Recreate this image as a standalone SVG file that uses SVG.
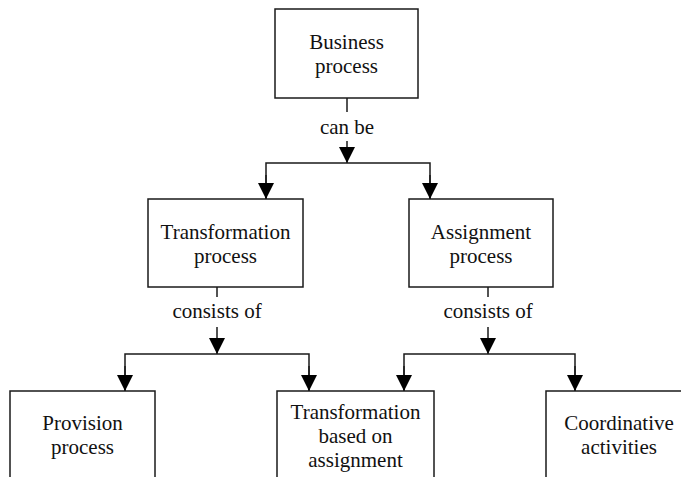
<svg xmlns="http://www.w3.org/2000/svg" width="681" height="477" viewBox="0 0 681 477">
  <style>
    .box { fill: #ffffff; stroke: #1a1a1a; stroke-width: 1.5; }
    .lbl { font-size: 21px; fill: #111111; text-anchor: middle; }
    .wire { fill: none; stroke: #1a1a1a; stroke-width: 1.5; }
  </style>
  <defs>
    <marker id="arrow" markerUnits="userSpaceOnUse" markerWidth="16" markerHeight="16" refX="16" refY="8" orient="auto">
      <path d="M0,0 L16,8 L0,16 Z" fill="#000000"/>
    </marker>
  </defs>
  <rect width="681" height="477" fill="#ffffff"/>

  <g font-family="Liberation Serif, Times New Roman, DejaVu Serif, serif">
  <g id="connectors">
    <!-- Business process -> can be -->
    <line class="wire" x1="347" y1="98" x2="347" y2="112"/>
    <line class="wire" x1="347" y1="141" x2="347" y2="163" marker-end="url(#arrow)"/>
    <text class="lbl" x="347" y="134">can be</text>
    <polyline class="wire" points="266,199 266,163 430,163 430,199"/>
    <line class="wire" x1="266" y1="175" x2="266" y2="199" marker-end="url(#arrow)"/>
    <line class="wire" x1="430" y1="175" x2="430" y2="199" marker-end="url(#arrow)"/>

    <!-- Transformation process -> consists of -->
    <line class="wire" x1="217" y1="287" x2="217" y2="297"/>
    <line class="wire" x1="217" y1="327" x2="217" y2="354" marker-end="url(#arrow)"/>
    <text class="lbl" x="217" y="318">consists of</text>
    <polyline class="wire" points="125,391 125,354 309,354 309,391"/>
    <line class="wire" x1="125" y1="366" x2="125" y2="391" marker-end="url(#arrow)"/>
    <line class="wire" x1="309" y1="366" x2="309" y2="391" marker-end="url(#arrow)"/>

    <!-- Assignment process -> consists of -->
    <line class="wire" x1="488" y1="287" x2="488" y2="297"/>
    <line class="wire" x1="488" y1="327" x2="488" y2="354" marker-end="url(#arrow)"/>
    <text class="lbl" x="488" y="318">consists of</text>
    <polyline class="wire" points="404,391 404,354 575,354 575,391"/>
    <line class="wire" x1="404" y1="366" x2="404" y2="391" marker-end="url(#arrow)"/>
    <line class="wire" x1="575" y1="366" x2="575" y2="391" marker-end="url(#arrow)"/>
  </g>

  <g id="business-process">
    <rect class="box" x="275" y="9" width="143" height="89"/>
    <text class="lbl" x="346.5" y="49">Business</text>
    <text class="lbl" x="346.5" y="73">process</text>
  </g>

  <g id="transformation-process">
    <rect class="box" x="148" y="199" width="155" height="88"/>
    <text class="lbl" x="225.5" y="239">Transformation</text>
    <text class="lbl" x="225.5" y="263">process</text>
  </g>

  <g id="assignment-process">
    <rect class="box" x="409" y="199" width="144" height="88"/>
    <text class="lbl" x="481" y="239">Assignment</text>
    <text class="lbl" x="481" y="263">process</text>
  </g>

  <g id="provision-process">
    <rect class="box" x="10" y="391" width="145" height="90"/>
    <text class="lbl" x="82.5" y="430">Provision</text>
    <text class="lbl" x="82.5" y="454">process</text>
  </g>

  <g id="transformation-based-on-assignment">
    <rect class="box" x="277" y="391" width="157" height="90"/>
    <text class="lbl" x="355.5" y="419">Transformation</text>
    <text class="lbl" x="355.5" y="443">based on</text>
    <text class="lbl" x="355.5" y="467">assignment</text>
  </g>

  <g id="coordinative-activities">
    <rect class="box" x="546" y="391" width="145" height="90"/>
    <text class="lbl" x="619" y="430">Coordinative</text>
    <text class="lbl" x="619" y="454">activities</text>
  </g>
  </g>
</svg>
